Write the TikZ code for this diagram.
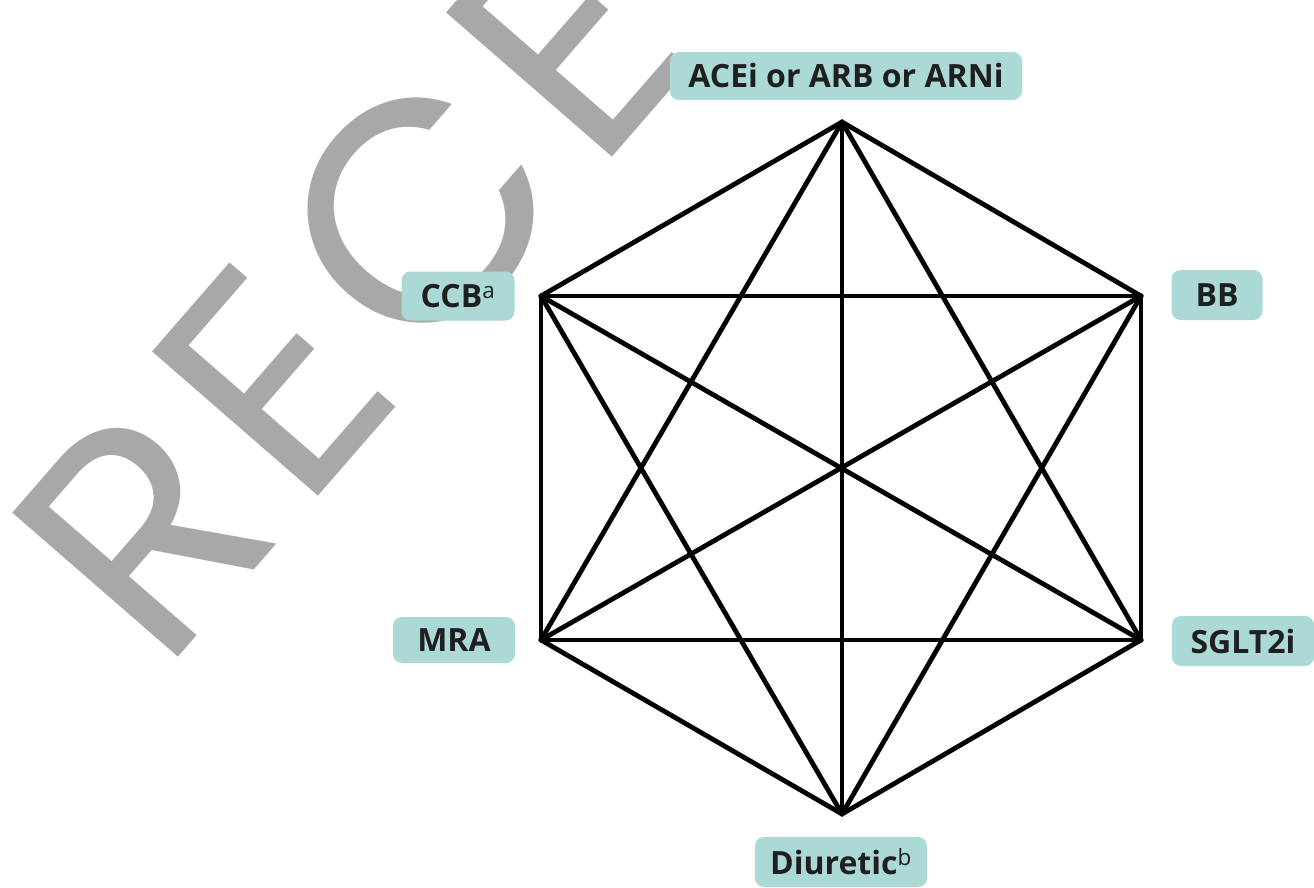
\documentclass[tikz,border=0pt]{standalone}
\usepackage{fontspec}
\setmainfont{Open Sans}
\newfontfamily\markfont[LetterSpace=7]{Poppins}
\definecolor{labelteal}{RGB}{170,217,214}
\definecolor{markgray}{RGB}{168,168,168}

\begin{document}
\begin{tikzpicture}[x=1pt,y=-1pt,
    drug/.style={fill=labelteal, rounded corners=9pt, inner sep=0pt, text=black!88,
      font=\fontsize{32}{32}\selectfont\bfseries},
    edge/.style={line width=4.8pt, line cap=round, line join=round}]
  \useasboundingbox (0,0) rectangle (1314,888);

  % watermark
  \node[anchor=base west, rotate=49, inner sep=0pt, text=markgray,
    font=\markfont\fontsize{315}{315}\selectfont] (mark) at (162,676) {RECE};

  % hexagon corners
  \coordinate (top) at (842,122);
  \coordinate (ul) at (541,296);
  \coordinate (ur) at (1141,296);
  \coordinate (ll) at (541,640);
  \coordinate (lr) at (1141,640);
  \coordinate (bot) at (842,814);

  \foreach \a/\b in {top/ul, top/ur, top/ll, top/lr, top/bot,
                     ul/ur, ul/ll, ul/lr, ul/bot,
                     ur/ll, ur/lr, ur/bot,
                     ll/lr, ll/bot, lr/bot}
    \draw[edge] (\a) -- (\b);

  % labels
  \node[drug, minimum width=352pt, minimum height=48pt] (acei) at (846,76) {ACEi or ARB or ARNi};
  \node[drug, minimum width=113pt, minimum height=49pt] (ccb) at (458,296) {CCB\textsuperscript{\mdseries a}};
  \node[drug, minimum width=91pt, minimum height=50pt] (bb) at (1217,295) {BB};
  \node[drug, minimum width=122pt, minimum height=46pt] (mra) at (454,640) {MRA};
  \node[drug, minimum width=142pt, minimum height=50pt] (sglt) at (1243,641) {SGLT2i};
  \node[drug, minimum width=172pt, minimum height=50pt] (diur) at (841,862) {Diuretic\textsuperscript{\mdseries b}};
\end{tikzpicture}
\end{document}
